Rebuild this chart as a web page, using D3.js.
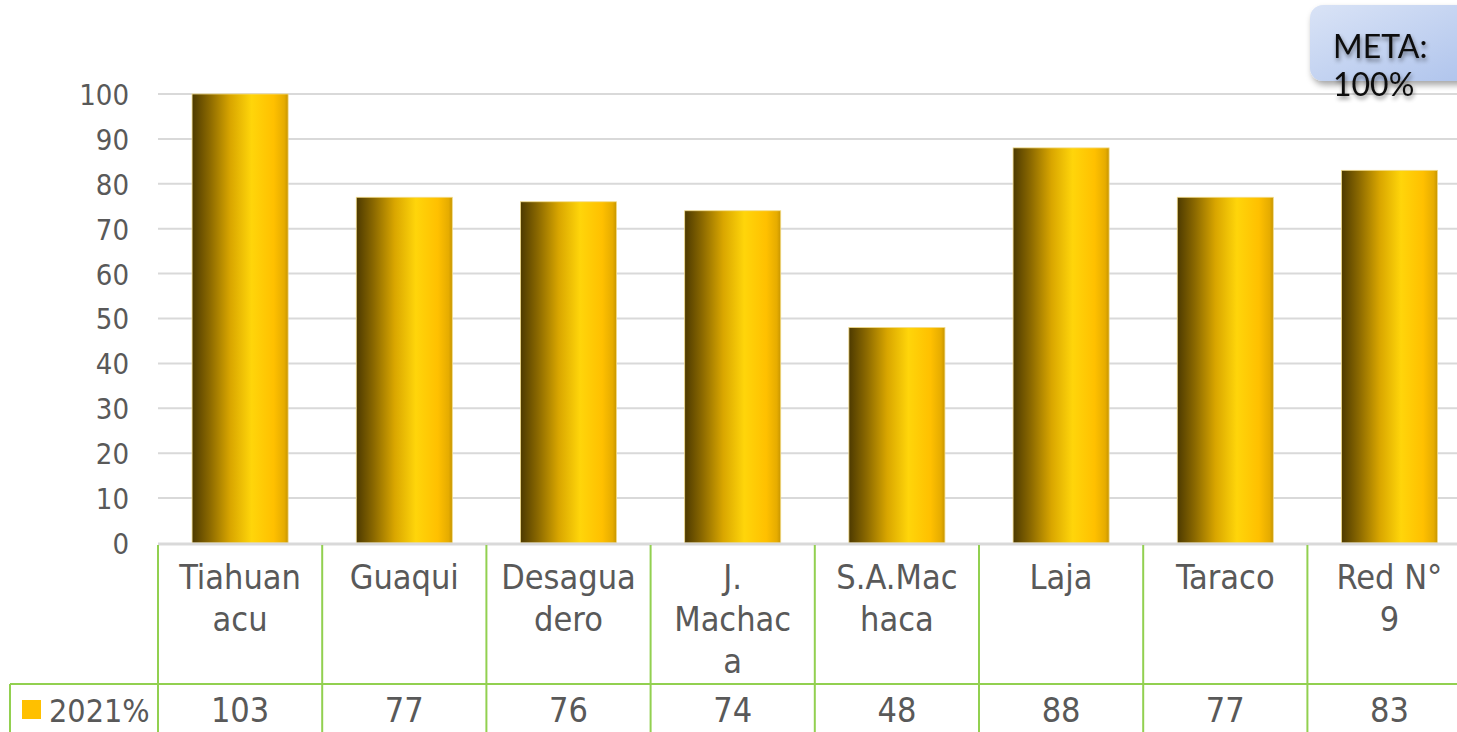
<!DOCTYPE html>
<html>
<head>
<meta charset="utf-8">
<script src="https://cdn.jsdelivr.net/npm/d3@7"></script>
<style>
  html, body { margin: 0; padding: 0; background: #fff; }
  svg { display: block; }
</style>
</head>
<body>
<svg id="chart" width="1457" height="732"></svg>
<script>
// Cobertura 2021 por establecimiento (%)
const categories = ["Tiahuanacu", "Guaqui", "Desaguadero", "J. Machaca", "S.A.Machaca", "Laja", "Taraco", "Red N° 9"];
const labelLines = [["Tiahuan", "acu"], ["Guaqui"], ["Desagua", "dero"], ["J.", "Machac", "a"], ["S.A.Mac", "haca"], ["Laja"], ["Taraco"], ["Red N°", "9"]];
const values2021 = [103, 77, 76, 74, 48, 88, 77, 83];
const yTicks = [0, 10, 20, 30, 40, 50, 60, 70, 80, 90, 100];
const seriesName = "2021%";
const metaLines = ["META:", "100%"];

const W = 1457, H = 732;
const svg = d3.select("#chart");
const defs = svg.append("defs");

const plotLeft = 158, plotBottom = 543, plotTop = 94;
const bandW = 164.2;

const x = d3.scaleBand()
  .domain(categories)
  .range([plotLeft, plotLeft + bandW * categories.length])
  .paddingInner(0.415).paddingOuter(0.2075);

const y = d3.scaleLinear().domain([0, 100]).range([plotBottom, plotTop]).clamp(true);

// bar gradient: dark bronze on the left to bright gold
const g = defs.append("linearGradient").attr("id", "gold").attr("x1", 0).attr("x2", 1).attr("y1", 0).attr("y2", 0);
[[0, "#4d3a00"], [0.18, "#8a6800"], [0.4, "#d9a600"], [0.62, "#ffd50a"], [0.85, "#ffc000"], [0.96, "#e6ac00"], [1, "#c79500"]]
  .forEach(([o, c]) => g.append("stop").attr("offset", o).attr("stop-color", c));

const mg = defs.append("linearGradient").attr("id", "meta").attr("x1", 0).attr("x2", 1).attr("y1", 0).attr("y2", 1);
mg.append("stop").attr("offset", 0).attr("stop-color", "#d9e3f6");
mg.append("stop").attr("offset", 1).attr("stop-color", "#aec3ec");

const sh = defs.append("filter").attr("id", "shadow").attr("x", "-20%").attr("y", "-20%").attr("width", "150%").attr("height", "160%");
sh.append("feDropShadow").attr("dx", 2).attr("dy", 4).attr("stdDeviation", 3).attr("flood-color", "#000").attr("flood-opacity", 0.35);

const ts = defs.append("filter").attr("id", "tshadow").attr("x", "-20%").attr("y", "-20%").attr("width", "150%").attr("height", "160%");
ts.append("feDropShadow").attr("dx", 1).attr("dy", 3).attr("stdDeviation", 2).attr("flood-color", "#000").attr("flood-opacity", 0.45);

const font = "'DejaVu Sans Condensed', 'DejaVu Sans', sans-serif";
const textCol = "#595959";
const green = "#92d050";

// horizontal gridlines
svg.append("g").selectAll("line").data(yTicks.filter(d => d > 0)).join("line")
  .attr("x1", plotLeft).attr("x2", W)
  .attr("y1", d => y(d)).attr("y2", d => y(d))
  .attr("stroke", "#d9d9d9").attr("stroke-width", 2);

// y axis labels
const yAxis = d3.axisLeft(y).tickValues(yTicks).tickSize(0).tickPadding(0);
const ya = svg.append("g").attr("transform", `translate(129,0)`).call(yAxis);
ya.select(".domain").remove();
ya.selectAll("text").attr("font-family", font).attr("font-size", 29).attr("fill", textCol).attr("dy", "0.36em");

// bars
svg.append("g").selectAll("rect").data(categories).join("rect")
  .attr("x", d => x(d))
  .attr("width", x.bandwidth())
  .attr("y", (d, i) => y(values2021[i]))
  .attr("height", (d, i) => plotBottom - y(values2021[i]))
  .attr("fill", "url(#gold)")
  .attr("stroke", "#f3dc8a").attr("stroke-width", 0.8);

// category axis baseline
svg.append("line").attr("x1", plotLeft).attr("x2", W).attr("y1", plotBottom + 1).attr("y2", plotBottom + 1)
  .attr("stroke", "#d9d9d9").attr("stroke-width", 3);

// data table grid
const rowY = 684;
const tableG = svg.append("g");
const bounds = d3.range(categories.length + 1).map(i => plotLeft + bandW * i);
tableG.selectAll("line.v").data(bounds).join("line")
  .attr("x1", d => d).attr("x2", d => d)
  .attr("y1", plotBottom + 2).attr("y2", H)
  .attr("stroke", green).attr("stroke-width", 2);
tableG.append("line").attr("x1", 10).attr("x2", W).attr("y1", rowY).attr("y2", rowY)
  .attr("stroke", green).attr("stroke-width", 2);
tableG.append("line").attr("x1", 10).attr("x2", 10).attr("y1", rowY).attr("y2", H)
  .attr("stroke", green).attr("stroke-width", 2);

// category labels (wrapped)
const catG = svg.append("g");
categories.forEach((c, i) => {
  const cx = x(c) + x.bandwidth() / 2;
  const t = catG.append("text").attr("x", cx).attr("y", 589)
    .attr("text-anchor", "middle").attr("font-family", font).attr("font-size", 34).attr("fill", textCol);
  labelLines[i].forEach((ln, j) => t.append("tspan").attr("x", cx).attr("dy", j === 0 ? 0 : 42).text(ln));
});

// value row
svg.append("g").selectAll("text").data(values2021).join("text")
  .attr("x", (d, i) => x(categories[i]) + x.bandwidth() / 2)
  .attr("y", 722)
  .attr("text-anchor", "middle").attr("font-family", font).attr("font-size", 34).attr("fill", textCol)
  .text(d => d);

// legend key
svg.append("rect").attr("x", 22).attr("y", 700).attr("width", 19).attr("height", 19).attr("fill", "#ffc000");
svg.append("text").attr("x", 49).attr("y", 722).attr("font-family", font).attr("font-size", 32).attr("fill", textCol).text(seriesName);

// target callout
svg.append("rect").attr("x", 1310).attr("y", 5).attr("width", 170).attr("height", 76).attr("rx", 13)
  .attr("fill", "url(#meta)").attr("filter", "url(#shadow)");
metaLines.forEach((ln, j) => {
  svg.append("text").attr("x", 1333).attr("y", 58 + j * 38)
    .attr("font-family", "Lato, 'Open Sans', sans-serif").attr("font-size", 32).attr("fill", "#111")
    .attr("filter", "url(#tshadow)")
    .text(ln);
});
</script>
</body>
</html>
